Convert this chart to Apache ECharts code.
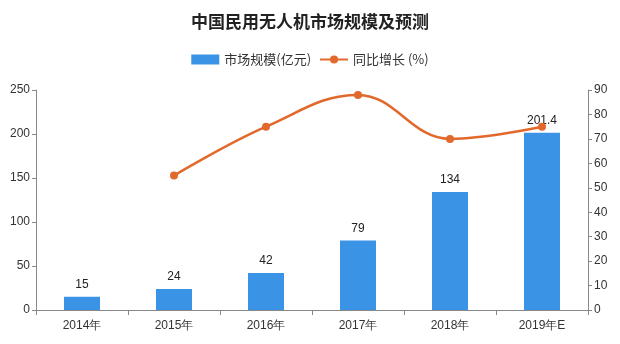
<!DOCTYPE html>
<html><head><meta charset="utf-8">
<script src="https://cdn.jsdelivr.net/npm/echarts@6/dist/echarts.min.js"></script>
<style>html,body{margin:0;padding:0;background:#fff}#c{width:620px;height:344px}</style>
</head><body><div id="c"></div>
<script>
const categories = ['2014年','2015年','2016年','2017年','2018年','2019年E'];
const marketSize = [15, 24, 42, 79, 134, 201.4];
const growth = [null, 55, 75, 88, 70, 75];
const leftTicks = [0, 50, 100, 150, 200, 250];
const rightTicks = [0,10,20,30,40,50,60,70,80,90];

const chart = echarts.init(document.getElementById('c'));
chart.setOption({
  backgroundColor: '#fff',
  animation: false,
  title: {
    text: '中国民用无人机市场规模及预测',
    left: 'center', top: 8,
    textStyle: {fontSize: 17, fontWeight: 'bold', color: '#222', fontFamily: 'Noto Sans CJK SC'}
  },
  legend: {
    top: 48, left: 'center', itemGap: 8, itemWidth: 28, itemHeight: 10,
    textStyle: {fontSize: 13, color: '#333', fontFamily: 'Noto Sans CJK SC'},
    data: [{name: '市场规模(亿元)', icon: 'rect'}, {name: '同比增长 (%)'}]
  },
  grid: {left: 36, right: 32, top: 90, bottom: 34},
  xAxis: {
    type: 'category', data: categories, boundaryGap: true,
    axisLine: {lineStyle: {color: '#888'}},
    axisTick: {show: true, length: 5, lineStyle: {color: '#888'}},
    axisLabel: {fontSize: 12, color: '#333', margin: 10}
  },
  yAxis: [
    {type: 'value', min: 0, max: 250, interval: 50, position: 'left',
     axisLine: {show: true, lineStyle: {color: '#888'}},
     axisTick: {show: true, length: 4, lineStyle: {color: '#888'}},
     splitLine: {show: false},
     axisLabel: {fontSize: 12, color: '#333', margin: 6}},
    {type: 'value', min: 0, max: 90, interval: 10, position: 'right',
     axisLine: {show: true, lineStyle: {color: '#888'}},
     axisTick: {show: true, length: 4, lineStyle: {color: '#888'}},
     splitLine: {show: false},
     axisLabel: {fontSize: 12, color: '#333', margin: 6}}
  ],
  series: [
    {name: '市场规模(亿元)', type: 'bar', data: marketSize, barWidth: 36,
     itemStyle: {color: '#3b93e6'},
     label: {show: true, position: 'top', color: '#222', fontSize: 12, distance: 6}},
    {name: '同比增长 (%)', type: 'line', yAxisIndex: 1, data: growth, smooth: 0.4,
     connectNulls: false, symbol: 'circle', symbolSize: 8,
     lineStyle: {color: '#e2692c', width: 2.5},
     itemStyle: {color: '#e2692c'}}
  ]
});
</script></body></html>
